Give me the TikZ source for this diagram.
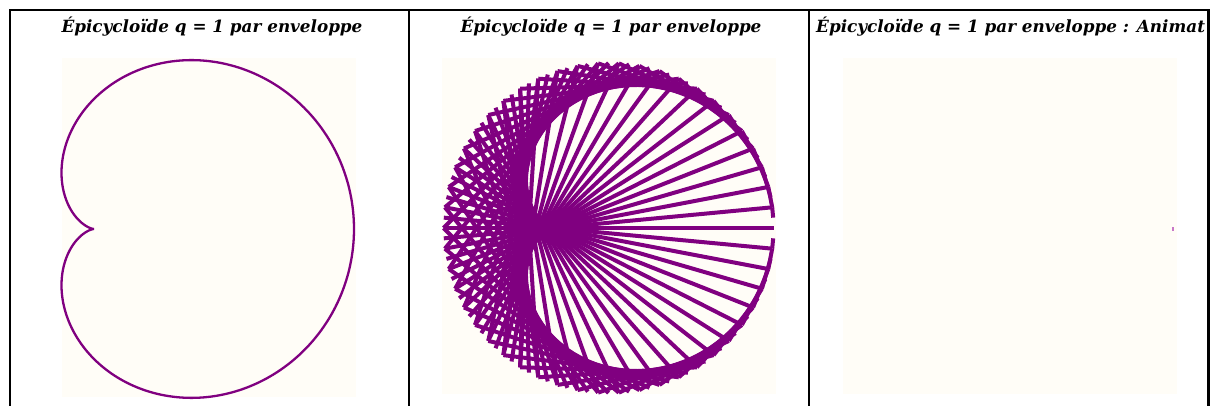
\documentclass[tikz,border=0pt]{standalone}
\usepackage{fontspec}
\setmainfont{DejaVu Serif}
\usepackage{xcolor}
\usepackage{tikz}
\usetikzlibrary{positioning}

\definecolor{pourpre}{RGB}{128,0,128}
\definecolor{ivoire}{RGB}{255,253,247}
\definecolor{lila}{RGB}{200,120,200}

\begin{document}
\begin{tikzpicture}[x=1pt, y=1pt,
  cadre/.style={line width=2.6pt},
  titre/.style={font=\fontsize{16.8}{20}\selectfont\bfseries\itshape, inner sep=0pt, anchor=base},
  courbe/.style={pourpre, line width=2.3pt, line join=round},
  corde/.style={pourpre, line width=4pt}]
  \useasboundingbox (0,0) rectangle (1212,406);

  % Fonds
  \fill[ivoire] (62,8.5) rectangle (356,348);
  \fill[ivoire] (441.5,11.5) rectangle (776,348);
  \fill[ivoire] (843,11.5) rectangle (1177,348);

  % Centres
  \coordinate (O1) at (159,177);
  \coordinate (O2) at (608.5,178);

  % Cardioide
  \draw[courbe, shift={(O1)}] plot[domain=0:360, samples=361]
    ({65*cos(2*\x)-130*cos(\x)}, {130*sin(\x)-65*sin(2*\x)});

  % Enveloppe
  \foreach \k in {0,...,99}
    \draw[corde] ([shift={(O2)}]3.6*\k:165) -- ([shift={(O2)}]7.2*\k:165);

  % Animation
  \coordinate (m) at (1173,177);
  \draw[lila, line width=1.3pt] ([yshift=-1.6pt]m) -- ([yshift=1.6pt]m);

  % Cadres
  \draw[cadre] (10,0) -- (10,396) -- (1208.5,396) -- (1208.5,0);
  \draw[cadre] (409,0) -- (409,396);
  \draw[cadre] (809,0) -- (809,396);

  % Titres
  \node[titre] (t1) at (212,373) {Épicycloïde q = 1 par enveloppe};
  \node[titre] (t2) at (611,373) {Épicycloïde q = 1 par enveloppe};
  \begin{scope}
    \clip (810.3,355) rectangle (1207.2,394.7);
    \node[titre, anchor=base west] (t3) at (816,373) {Épicycloïde q = 1 par enveloppe : Animat};
  \end{scope}
\end{tikzpicture}
\end{document}
